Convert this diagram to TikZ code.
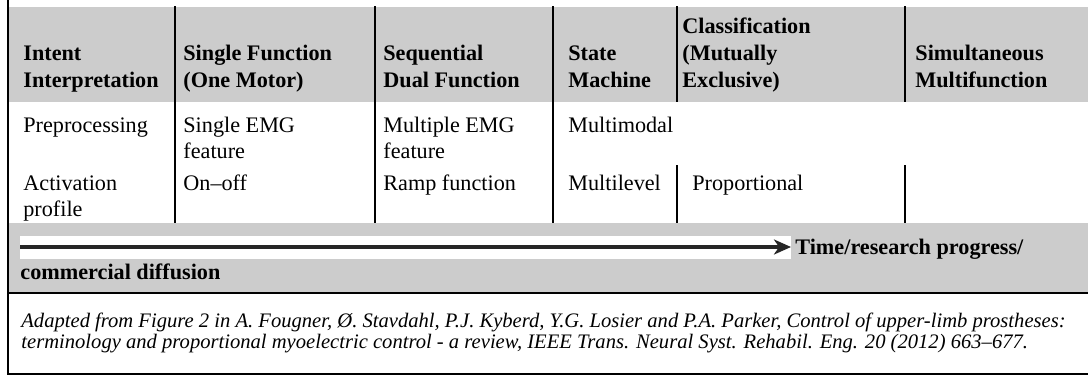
\documentclass[tikz,border=0pt]{standalone}
\usepackage{fontspec}
\setmainfont{Liberation Serif}
\usetikzlibrary{arrows.meta}
\usetikzlibrary{positioning}

\definecolor{bandgray}{HTML}{CCCCCC}

\tikzset{
    rule/.style={line width=1pt, black},
    headcell/.style={anchor=base west, align=left, inner sep=0pt,
        font=\fontsize{11.1}{13.5}\selectfont\bfseries},
    bodycell/.style={anchor=base west, align=left, inner sep=0pt,
        font=\fontsize{11.1}{13}\selectfont},
    notecell/.style={anchor=base west, align=left, inner sep=0pt,
        font=\fontsize{10.3}{10.5}\selectfont\itshape},
    progress/.style={->, line width=2pt, black!85}
}

\begin{document}
\begin{tikzpicture}[>={Stealth[length=8.5pt,width=7.5pt,inset=2.5pt]}, x=0.5pt, y=-0.5pt]

    \useasboundingbox (0,0) rectangle (1088,376);

    \fill[bandgray] (8,7) rectangle (1088,102);
    \fill[bandgray] (8,223) rectangle (1088,293);
    \fill[white] (20,236) rectangle (791,259);

    \draw[rule] (8,0) -- (8,374) -- (1088,374);
    \draw[rule] (8,293) -- (1088,293);
    \foreach \x in {175,375,553}
        \draw[rule] (\x,6) -- (\x,223);
    \foreach \x in {677,905} {
        \draw[rule] (\x,6) -- (\x,102);
        \draw[rule] (\x,165) -- (\x,223);
    }

    % header row, last lines share one baseline
    \node[headcell] (intent) at (23,87) {Intent\\Interpretation};
    \node[headcell] (single) at (183,87) {Single Function\\(One Motor)};
    \node[headcell] (sequential) at (383,87) {Sequential\\Dual Function};
    \node[headcell] (statemachine) at (568,87) {State\\Machine};
    \node[headcell] (classification) at (682,87) {Classification\\(Mutually\\Exclusive)};
    \node[headcell] (simultaneous) at (915,87) {Simultaneous\\Multifunction};

    \node[bodycell] (preprocessing) at (23,132) {Preprocessing};
    \node[bodycell] (singleemg) at (183,158) {Single EMG\\feature};
    \node[bodycell] (multipleemg) at (383,158) {Multiple EMG\\feature};
    \node[bodycell] (multimodal) at (568,132) {Multimodal};

    \node[bodycell] (activation) at (23,216) {Activation\\profile};
    \node[bodycell] (onoff) at (183,190) {On--off};
    \node[bodycell] (ramp) at (383,190) {Ramp function};
    \node[bodycell] (multilevel) at (568,190) {Multilevel};
    \node[bodycell] (proportional) at (692,190) {Proportional};

    % time axis
    \coordinate (progstart) at (20,247);
    \coordinate (progend) at (791,247);
    \draw[progress] (progstart) -- (progend);
    \node[headcell] (timelabel) at (795,254) {Time/research progress/};
    \node[headcell] (diffusion) at (20,279) {commercial diffusion};

    \node[notecell] (source) at (21,348) {Adapted from Figure 2 in A. Fougner, Ø. Stavdahl, P.J. Kyberd, Y.G. Losier and P.A. Parker, Control of upper-limb prostheses:\\terminology and proportional myoelectric control - a review, IEEE Trans. Neural Syst. Rehabil. Eng. 20 (2012) 663--677.};

\end{tikzpicture}
\end{document}
